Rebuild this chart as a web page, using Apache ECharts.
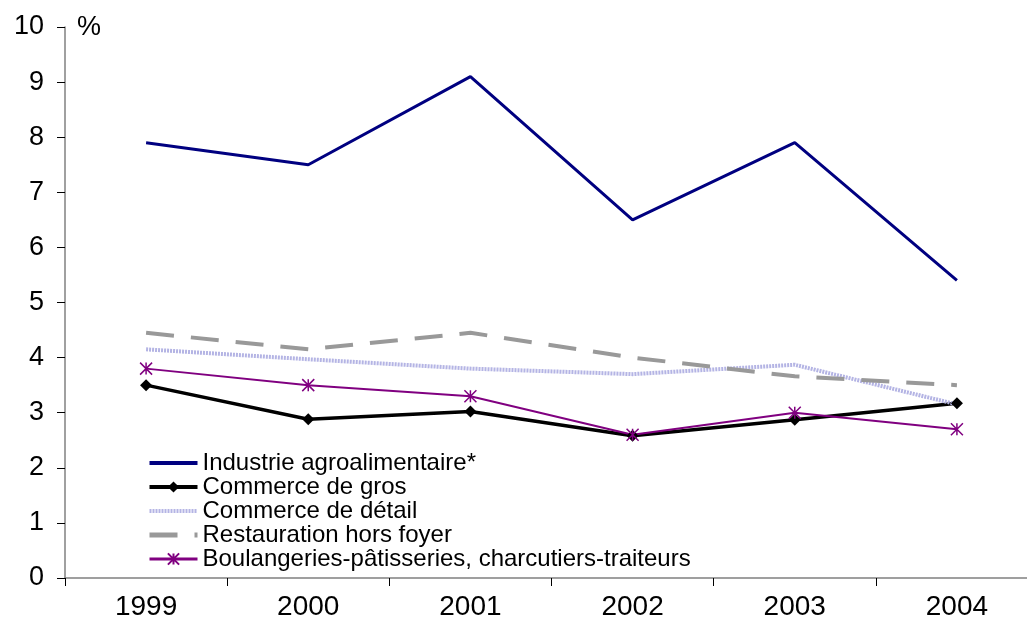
<!DOCTYPE html>
<html>
<head>
<meta charset="utf-8">
<script src="https://cdn.jsdelivr.net/npm/echarts@6/dist/echarts.min.js"></script>
<style>
  html, body { margin: 0; padding: 0; background: #fff; }
  #main { width: 1027px; height: 631px; }
</style>
</head>
<body>
<div id="main"></div>
<script>
const years = ["1999", "2000", "2001", "2002", "2003", "2004"];
const industrie = [7.9, 7.5, 9.1, 6.5, 7.9, 5.4];
const commerceGros = [3.5, 2.88, 3.02, 2.58, 2.87, 3.17];
const commerceDetail = [4.15, 3.97, 3.8, 3.7, 3.87, 3.15];
const restauration = [4.45, 4.15, 4.45, 4.0, 3.66, 3.5];
const boulangeries = [3.8, 3.5, 3.3, 2.6, 3.0, 2.7];
const yTicks = [0, 10, 1]; // min, max, interval

const chart = echarts.init(document.getElementById("main"));
const font = "Liberation Sans, Arial, sans-serif";

// series with no markers: hide the legend dot
const noDot = { opacity: 0 };

const option = {
  animation: false,
  textStyle: { fontFamily: font },
  grid: { left: 65, top: 27, width: 973, height: 551, outerBoundsMode: "none" },
  legend: {
    orient: "vertical",
    left: 142,
    top: 446,
    itemWidth: 48,
    itemHeight: 14,
    itemGap: 0,
    textStyle: { fontSize: 24, color: "#000", fontFamily: font },
    data: [
      { name: "Industrie agroalimentaire*", itemStyle: noDot, lineStyle: { width: 4 } },
      { name: "Commerce de gros", lineStyle: { width: 4 } },
      { name: "Commerce de détail", itemStyle: noDot, lineStyle: { width: 4 } },
      { name: "Restauration hors foyer", itemStyle: noDot, lineStyle: { width: 5 } },
      { name: "Boulangeries-pâtisseries, charcutiers-traiteurs", lineStyle: { width: 3 } }
    ]
  },
  xAxis: {
    type: "category",
    data: years,
    boundaryGap: true,
    axisLine: { lineStyle: { color: "#808080", width: 1.5 } },
    axisTick: { show: true, length: 8, lineStyle: { color: "#000" } },
    axisLabel: { fontSize: 28, color: "#000", margin: 15 }
  },
  yAxis: {
    type: "value",
    min: yTicks[0],
    max: yTicks[1],
    interval: yTicks[2],
    name: "%",
    nameLocation: "end",
    nameGap: -14,
    nameTextStyle: { fontSize: 27, color: "#000", align: "left", padding: [0, 0, 0, 12] },
    splitLine: { show: false },
    axisLine: { show: true, lineStyle: { color: "#808080", width: 1.5 } },
    axisTick: { show: true, length: 8, lineStyle: { color: "#000" } },
    axisLabel: { fontSize: 27, color: "#000", margin: 21 }
  },
  series: [
    {
      name: "Industrie agroalimentaire*",
      type: "line",
      data: industrie,
      symbol: "none",
      lineStyle: { color: "#000080", width: 3 },
      itemStyle: { color: "#000080" }
    },
    {
      name: "Commerce de gros",
      type: "line",
      data: commerceGros,
      symbol: "diamond",
      symbolSize: 12,
      lineStyle: { color: "#000", width: 3.5 },
      itemStyle: { color: "#000" }
    },
    {
      name: "Commerce de détail",
      type: "line",
      data: commerceDetail,
      symbol: "none",
      lineStyle: { color: "#b4b4e4", width: 4, type: [2, 1] },
      itemStyle: { color: "#b4b4e4" }
    },
    {
      name: "Restauration hors foyer",
      type: "line",
      data: restauration,
      symbol: "none",
      lineStyle: { color: "#999999", width: 4, type: [28, 17] },
      itemStyle: { color: "#999999" }
    },
    {
      name: "Boulangeries-pâtisseries, charcutiers-traiteurs",
      type: "line",
      data: boulangeries,
      symbol: "path://M0,0 L10,10 M10,0 L0,10 M5,0 L5,10",
      symbolSize: 12,
      lineStyle: { color: "#800080", width: 2 },
      itemStyle: { color: "transparent", borderColor: "#800080", borderWidth: 1.5 }
    }
  ]
};

chart.setOption(option);
window.addEventListener("resize", function() {
  chart.resize();
});
</script>
</body>
</html>
